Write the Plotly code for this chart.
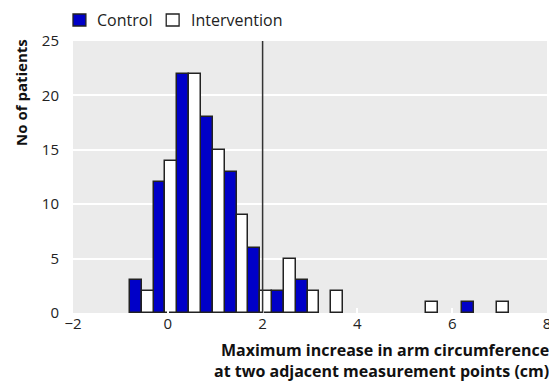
import plotly.graph_objects as go

bin_centers = [-0.55, -0.05, 0.45, 0.95, 1.45, 1.95, 2.45, 2.95, 3.45, 5.45, 6.45, 6.95]
control = [3, 12, 22, 18, 13, 6, 2, 3, None, None, 1, None]
intervention = [2, 14, 22, 15, 9, 2, 5, 2, 2, 1, None, 1]
x_ticks = [-2, 0, 2, 4, 6, 8]
y_ticks = [0, 5, 10, 15, 20, 25]
threshold = 2
series_names = ["Control", "Intervention"]
series_colors = ["#0000c8", "#ffffff"]

FONT = "Open Sans"
W, H = 549, 377          # page body has an 8px margin
L, R, T, B = 65, 6, 33, 72
PW, PH = W - L - R, H - T - B

def px(x):
    return (x - L) / PW

def py(y):
    return (H - B - y) / PH

fig = go.Figure()
for name, vals, col in zip(series_names, [control, intervention], series_colors):
    fig.add_trace(go.Bar(x=bin_centers, y=vals, name=name,
                         marker=dict(color=col, line=dict(color="#222222", width=1.5))))

fig.add_shape(type="line", xref="x", yref="paper", x0=threshold, x1=threshold, y0=0, y1=1,
              line=dict(color="#333333", width=1.5))

# legend drawn manually (swatch + label)
legend_swatch_x = [65, 159]
legend_text_x = [87, 182]
annos = []
for name, col, sx, tx in zip(series_names, series_colors, legend_swatch_x, legend_text_x):
    fig.add_shape(type="rect", xref="paper", yref="paper",
                  x0=px(sx), x1=px(sx + 13), y0=py(18), y1=py(6),
                  fillcolor=col, line=dict(color="#222222", width=1.3))
    annos.append(dict(text=name, xref="paper", yref="paper", x=px(tx), y=py(12),
                      xanchor="left", yanchor="middle", showarrow=False,
                      font=dict(size=16, color="#222222")))

annos += [
    dict(text="<b>Maximum increase in arm circumference<br>at two adjacent measurement points (cm)</b>",
         xref="paper", yref="paper", x=px(547), y=py(329), xanchor="right", yanchor="top",
         align="right", showarrow=False, font=dict(size=16, color="#111111")),
    dict(text="<b>No of patients</b>", textangle=-90,
         xref="paper", yref="paper", x=px(12), y=py(29), xanchor="center", yanchor="top",
         showarrow=False, font=dict(size=15, color="#111111")),
]

fig.update_layout(
    width=W, height=H,
    margin=dict(l=L, r=R, t=T, b=B),
    paper_bgcolor="white", plot_bgcolor="#ebebeb",
    barmode="group", bargap=0, bargroupgap=0,
    font=dict(family=FONT, size=15, color="#222222"),
    showlegend=False,
    xaxis=dict(range=[-2, 8], tickvals=x_ticks, showgrid=False, zeroline=False,
               ticks="inside", ticklen=5, tickcolor="white", tickwidth=1.5,
               showline=False),
    yaxis=dict(range=[0, 25], tickvals=y_ticks, showgrid=True, gridcolor="white",
               gridwidth=1.5, zeroline=False, showline=False,
               ticks="outside", ticklen=10, tickcolor="rgba(0,0,0,0)"),
    annotations=annos,
)

fig.write_html("out.html")
